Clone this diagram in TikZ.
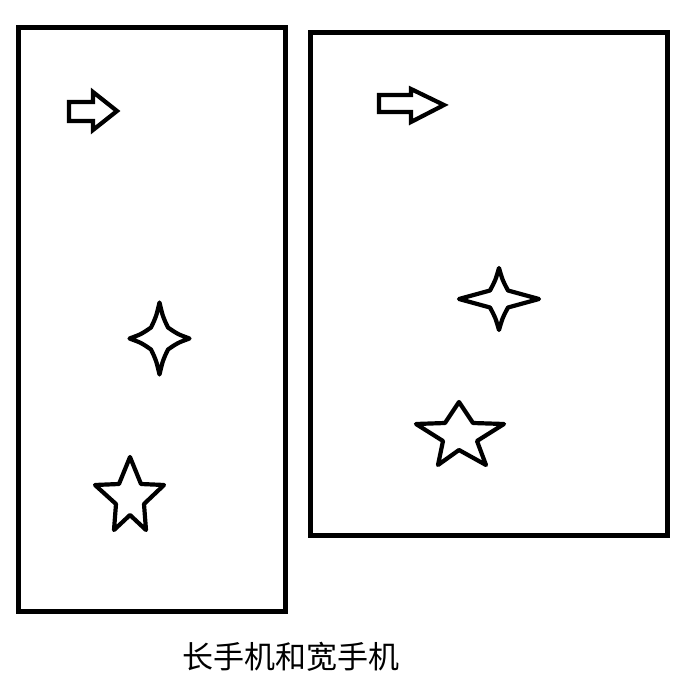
\documentclass[tikz,border=0pt]{standalone}
\usepackage{fontspec}
\newfontfamily\cjk{Noto Sans CJK SC}
\begin{document}
\begin{tikzpicture}[
  x=1pt, y=-1pt,
  frame/.style={draw, line width=5pt},
  arrowshape/.style={draw, line width=4.2pt, line join=miter},
  starshape/.style={draw, line width=4.2pt, line join=round},
  caption/.style={font=\cjk\fontsize{31}{31}\selectfont, inner sep=0pt},
]
\useasboundingbox (0,0) rectangle (699,695);

% --- Tall phone and wide phone ---
\draw[frame] (18.5,27.5) rectangle (285.5,611.5);
\draw[frame] (310.5,32.5) rectangle (667.5,535);

% --- Arrow icons ---
\draw[arrowshape] (69,102) -- (93,102) -- (93,92) -- (117,111) -- (93,130) -- (93,121) -- (69,121) -- cycle;
\draw[arrowshape] (379,95) -- (411,95) -- (411,89) -- (444,105) -- (411,122) -- (411,112) -- (379,112) -- cycle;

% --- Four-point stars ---
\foreach \cx/\cy/\w/\h/\a/\b in {159.5/338.5/30/36/8.5/11, 499/299/40/31/9/8.5} {
  \draw[starshape] (\cx,\cy-\h)
    .. controls (\cx+0.4*\a,\cy-0.6*\h) .. (\cx+\a,\cy-\b)
    .. controls (\cx+0.6*\w,\cy-0.4*\b) .. (\cx+\w,\cy)
    .. controls (\cx+0.6*\w,\cy+0.4*\b) .. (\cx+\a,\cy+\b)
    .. controls (\cx+0.4*\a,\cy+0.6*\h) .. (\cx,\cy+\h)
    .. controls (\cx-0.4*\a,\cy+0.6*\h) .. (\cx-\a,\cy+\b)
    .. controls (\cx-0.6*\w,\cy+0.4*\b) .. (\cx-\w,\cy)
    .. controls (\cx-0.6*\w,\cy-0.4*\b) .. (\cx-\a,\cy-\b)
    .. controls (\cx-0.4*\a,\cy-0.6*\h) .. cycle;
}

% --- Five-point stars ---
\draw[starshape] (130,457) -- (141,484) -- (164,485) -- (144,504) -- (146,530)
  -- (130,515) -- (114,530) -- (116,504) -- (95,485) -- (119,484) -- cycle;
\draw[starshape] (459,402) -- (473,423) -- (504,424) -- (477,441) -- (486,465)
  -- (459,450) -- (438,465) -- (443,441) -- (416,424) -- (445,423) -- cycle;

% --- Caption ---
\node[caption] (title) at (291,657) {长手机和宽手机};
\end{tikzpicture}
\end{document}
